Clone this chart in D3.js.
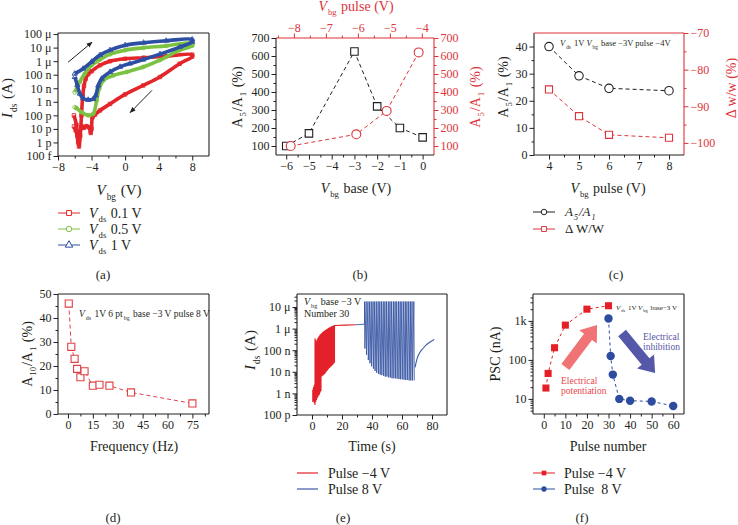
<!DOCTYPE html>
<html>
<head>
<meta charset="utf-8">
<script src="https://cdn.jsdelivr.net/npm/d3@7"></script>
<style>
  body { margin: 0; background: #fff; }
  svg { font-family: "Liberation Serif", "DejaVu Serif", serif; }
</style>
</head>
<body>
<svg id="fig" width="738" height="525"></svg>
<script>
// ---------- data ----------
// (a) transfer curves, forward sweep then backward sweep [Vbg, Ids]
const sweepRed = [[-6.1, 1.5e-11], [-5.9, 8e-12], [-5.7, 3e-12], [-5.5, 5e-13], [-5.35, 3e-12], [-5.2, 1e-10],
  [-5.05, 3e-9], [-4.9, 1.5e-8], [-4.7, 5e-8], [-4.4, 1.1e-7], [-4.0, 1.8e-7], [-3.0, 5e-7], [-1.8, 1e-6],
  [0, 1.5e-6], [2.2, 1.8e-6], [4.9, 2.3e-6], [8, 3e-6],
  [8, 2.2e-6], [6.5, 6.5e-7], [4.15, 6.8e-8], [2.15, 1.6e-8], [0, 3.5e-9], [-1.8, 7e-10], [-3.0, 2.3e-10],
  [-3.6, 1.1e-10], [-3.9, 7e-11], [-4.0, 1e-11], [-4.1, 5e-12], [-4.3, 1.3e-11], [-4.6, 1.6e-11],
  [-4.9, 1.2e-11], [-5.1, 1.5e-11], [-5.4, 4e-12], [-5.6, 1e-12], [-5.8, 2e-11], [-6.1, 1e-10]];
const sweepGreen = [[-6.0, 5e-9], [-5.4, 3e-8], [-4.8, 1.2e-7], [-4.0, 5e-7], [-3.0, 1.3e-6], [-1.8, 3.3e-6],
  [0, 6.5e-6], [2.2, 9.7e-6], [4.9, 1.35e-5], [8, 2.2e-5],
  [8, 1.4e-5], [6.5, 6.5e-6], [4.15, 1.2e-6], [2.15, 3.7e-7], [0.2, 1.6e-7], [-1.4, 9e-8], [-2.6, 3.8e-8],
  [-3.1, 9e-9], [-3.4, 1.2e-9], [-3.8, 1.3e-10], [-4.4, 1e-10], [-5.2, 1.7e-10], [-5.8, 3.5e-10], [-6.0, 4e-10]];
const sweepBlue = [[-6.0, 1.2e-7], [-5.0, 2.8e-7], [-4.0, 9e-7], [-3.0, 2.8e-6], [-1.8, 6.5e-6], [0, 1.5e-5],
  [2.2, 2.3e-5], [4.9, 3.2e-5], [8, 4e-5],
  [8, 2.7e-5], [6.5, 1.1e-5], [4.15, 3.3e-6], [2.15, 1.3e-6], [0.55, 6.6e-7], [-0.6, 3.8e-7], [-1.8, 1.6e-7],
  [-2.8, 5e-8], [-3.2, 1.6e-8], [-3.5, 3e-9], [-3.8, 1.6e-9], [-4.4, 1.4e-9], [-5.0, 1.8e-9], [-5.4, 4e-9],
  [-5.7, 1.7e-8], [-6.0, 6.8e-8]];
const vdsLabels = ['0.1 V', '0.5 V', '1 V'];
const aYTicks = [1e-4, 1e-5, 1e-6, 1e-7, 1e-8, 1e-9, 1e-10, 1e-11, 1e-12, 1e-13];
const aYLabels = ['100 \u03bc', '10 \u03bc', '1 \u03bc', '100 n', '10 n', '1 n', '100 p', '10 p', '1 p', '100 f'];

// (b) A5/A1 vs base voltage (black, bottom axis) and pulse voltage (red, top axis)
const baseV = [-6, -5, -3, -2, -1, 0];
const ratioBase = [100, 170, 625, 320, 200, 148];
const pulseVb = [-8.1, -6.05, -5.1, -4.1];
const ratioPulse = [100, 165, 295, 620];

// (c) A5/A1 and delta w/w vs pulse voltage
const pulseVc = [4, 5, 6, 8];
const ratioC = [40, 29.2, 24.6, 23.7];
const dwwC = [-85.4, -92.7, -97.8, -98.6];

// (d) A10/A1 vs frequency
const freq = [0.5, 2, 4, 5.5, 7.5, 10, 15, 19, 25, 38, 75];
const ratioD = [46, 28, 23, 18.8, 15.3, 17.8, 11.8, 12.2, 11.8, 9, 4.4];

// (e) pulse trains
const redTimes = [0.5, 1, 1.5, 2, 2.5, 3, 3.5, 4, 4.5, 5, 5.5, 6, 6.5, 7, 7.5, 8, 8.5, 9, 9.5, 10,
  10.5, 11, 11.5, 12, 12.5, 13, 13.5, 14, 14.5, 15];
const redHigh = [1.5e-9, 2e-9, 2.5e-9, 3.6e-7, 3e-7, 2.6e-7, 3.2e-7, 3.8e-7, 4.3e-7, 4.8e-7, 5.3e-7, 5.8e-7,
  6.3e-7, 6.8e-7, 7.2e-7, 7.7e-7, 8.2e-7, 8.7e-7, 9.2e-7, 9.7e-7, 1.02e-6, 1.07e-6, 1.12e-6, 1.17e-6,
  1.22e-6, 1.27e-6, 1.32e-6, 1.36e-6, 1.4e-6, 1.45e-6];
const redLow = [4e-10, 4.5e-10, 3.5e-10, 2.9e-10, 4e-10, 5e-10, 6e-10, 7e-10, 8e-10, 9e-10, 1.1e-9, 1.3e-9,
  6e-9, 6.5e-9, 7e-9, 7.5e-9, 8e-9, 9e-9, 1e-8, 1.1e-8, 1.2e-8, 1.35e-8, 1.5e-8, 1.6e-8, 1.7e-8,
  1.85e-8, 2e-8, 2.2e-8, 2.4e-8, 2.6e-8];
const redHold = [[15, 1.4e-6], [22, 1.45e-6], [29, 1.5e-6]];
const blueHold = [[29, 1.5e-6], [35, 1.6e-6]];
const blueTimes = [35.0, 36.1, 37.3, 38.4, 39.5, 40.7, 41.8, 42.9, 44.1, 45.2, 46.3, 47.5, 48.6, 49.7, 50.9,
  52.0, 53.1, 54.3, 55.4, 56.5, 57.7, 58.8, 59.9, 61.1, 62.2, 63.3, 64.5, 65.6, 66.7, 67.9];
const blueHigh = [1.8e-5, 1.8e-5, 1.8e-5, 1.8e-5, 1.8e-5, 1.8e-5, 1.8e-5, 1.8e-5, 1.8e-5, 1.8e-5,
  1.8e-5, 1.8e-5, 1.8e-5, 1.8e-5, 1.8e-5, 1.8e-5, 1.8e-5, 1.8e-5, 1.8e-5, 1.8e-5,
  1.8e-5, 1.8e-5, 1.8e-5, 1.8e-5, 1.8e-5, 1.8e-5, 1.8e-5, 1.8e-5, 1.8e-5, 1.8e-5];
const blueLow = [1.2e-7, 6e-8, 3.5e-8, 2.5e-8, 1.8e-8, 1.4e-8, 1.1e-8, 9e-9, 8e-9, 7.5e-9, 7e-9, 6.5e-9,
  6e-9, 6e-9, 5.5e-9, 5.5e-9, 5e-9, 5e-9, 5e-9, 4.8e-9, 4.6e-9, 4.5e-9, 4.5e-9, 4.3e-9, 4.2e-9,
  4.2e-9, 4e-9, 4e-9, 4e-9, 4e-9];
const recovery = [[68.7, 1.6e-8], [70, 4e-8], [72, 8e-8], [74, 1.2e-7], [76, 1.7e-7], [78, 2.2e-7],
  [80, 2.7e-7], [81.5, 3.1e-7]];

// (f) PSC vs pulse number
const potNum = [1, 2, 5, 10, 20, 30];
const potPSC = [19, 45, 205, 780, 2000, 2450];
const inhNum = [30, 31, 32, 35, 40, 50, 60];
const inhPSC = [1150, 126, 42, 10, 9, 8.6, 6.6];

// ---------- helpers ----------
const FONT = '"Liberation Serif", "DejaVu Serif", serif';
const INK = '#231f20';
const svg = d3.select('#fig');
const minus = d => (d < 0 ? '\u2212' + Math.abs(d) : String(d));

// text made of pieces: 'i' italic, 's' subscript
function rich(parent, x, y, parts, fs, opt = {}) {
  const t = parent.append('text').attr('x', x).attr('y', y).attr('font-size', fs)
    .attr('text-anchor', opt.anchor || 'start').attr('fill', opt.fill || INK);
  if (opt.rotate) t.attr('transform', `rotate(-90,${x},${y})`);
  let shift = 0;
  let prevSub = false;
  parts.forEach(p => {
    const str = typeof p === 'string' ? p : p[0];
    const st = typeof p === 'string' ? '' : p[1];
    const s = t.append('tspan').text(str);
    const isSub = st.includes('s');
    const want = isSub ? fs * 0.3 : 0;
    if (isSub) s.attr('font-size', fs * 0.62);
    if (st.includes('i')) s.attr('font-style', 'italic');
    if (want !== shift) { s.attr('dy', want - shift); shift = want; }
    if (isSub || prevSub) s.attr('dx', 1);
    prevSub = isSub;
  });
  return t;
}

function axis(g, orient, scale, at, major, fmt, minor, color = INK, fs = 12) {
  const gen = { left: d3.axisLeft, right: d3.axisRight, top: d3.axisTop, bottom: d3.axisBottom }[orient];
  const tr = orient === 'left' || orient === 'right' ? `translate(${at},0)` : `translate(0,${at})`;
  if (minor && minor.length) {
    const m = g.append('g').attr('transform', tr)
      .call(gen(scale).tickValues(minor).tickSize(2.5).tickFormat(() => '').tickSizeOuter(0));
    m.select('.domain').remove();
    m.selectAll('line').attr('stroke', color);
  }
  const a = g.append('g').attr('transform', tr)
    .call(gen(scale).tickValues(major).tickFormat(fmt).tickSize(4.5).tickPadding(2).tickSizeOuter(0));
  a.attr('font-family', FONT).attr('font-size', fs);
  a.select('.domain').remove();
  a.selectAll('line').attr('stroke', color);
  a.selectAll('text').attr('fill', color);
  return a;
}

function frame(g, xs, ys, c = {}) {
  const [x0, x1] = xs.range();
  const [y0, y1] = ys.range();
  const side = (ax, ay, bx, by, col) => g.append('line').attr('x1', ax).attr('y1', ay)
    .attr('x2', bx).attr('y2', by).attr('stroke', col || INK).attr('stroke-width', 1.1);
  side(x0, y0, x0, y1, c.left);
  side(x1, y0, x1, y1, c.right);
  side(x0, y1, x1, y1, c.top);
  side(x0, y0, x1, y0, c.bottom);
}

function logMinor(lo, hi) {
  const out = [];
  for (let e = Math.floor(Math.log10(lo)); e <= Math.ceil(Math.log10(hi)); e++) {
    for (let k = 2; k <= 9; k++) {
      const v = k * Math.pow(10, e);
      if (v > lo && v < hi) out.push(v);
    }
  }
  return out;
}

function blockArrow(g, p0, p1, shaftW, headW, headL, fill) {
  const dx = p1[0] - p0[0], dy = p1[1] - p0[1];
  const L = Math.hypot(dx, dy);
  const ux = dx / L, uy = dy / L, nx = -uy, ny = ux;
  const bx = p1[0] - ux * headL, by = p1[1] - uy * headL;
  const pts = [
    [p0[0] + nx * shaftW / 2, p0[1] + ny * shaftW / 2],
    [bx + nx * shaftW / 2, by + ny * shaftW / 2],
    [bx + nx * headW / 2, by + ny * headW / 2],
    p1,
    [bx - nx * headW / 2, by - ny * headW / 2],
    [bx - nx * shaftW / 2, by - ny * shaftW / 2],
    [p0[0] - nx * shaftW / 2, p0[1] - ny * shaftW / 2]
  ];
  g.append('polygon').attr('points', pts.map(p => p.join(',')).join(' ')).attr('fill', fill);
}

const sym = (type, size) => d3.symbol().type(type).size(size)();

svg.append('defs').append('marker')
  .attr('id', 'head').attr('viewBox', '0 0 10 10').attr('refX', 9).attr('refY', 5)
  .attr('markerWidth', 6).attr('markerHeight', 6).attr('orient', 'auto')
  .append('path').attr('d', 'M0,1 L10,5 L0,9 Z').attr('fill', INK);

// ---------- (a) ----------
const RED_A = '#e3262b', GREEN_A = '#7cc242', BLUE_A = '#2d4fa3';
const ga = svg.append('g');
const xA = d3.scaleLinear().domain([-8, 10]).range([58, 209]);
const yA = d3.scaleLog().domain([1e-13, 1.2e-4]).range([156, 33]);

const lineA = d3.line().x(d => xA(d[0])).y(d => yA(d[1])).curve(d3.curveCatmullRom.alpha(0.5));
const seriesA = [
  { data: sweepRed, color: RED_A, type: d3.symbolSquare, size: 12 },
  { data: sweepGreen, color: GREEN_A, type: d3.symbolCircle, size: 12 },
  { data: sweepBlue, color: BLUE_A, type: d3.symbolTriangle, size: 12 }
];
seriesA.forEach(s => {
  ga.append('path').attr('d', lineA(s.data)).attr('fill', 'none')
    .attr('stroke', s.color).attr('stroke-width', 3.6).attr('stroke-linejoin', 'round');
  ga.selectAll(null).data(s.data).enter().append('path')
    .attr('d', sym(s.type, s.size))
    .attr('transform', d => `translate(${xA(d[0])},${yA(d[1])})`)
    .attr('fill', 'none').attr('stroke', s.color).attr('stroke-width', 0.9);
});
frame(ga, xA, yA);
axis(ga, 'left', yA, 58, aYTicks, (d, i) => aYLabels[i]);
axis(ga, 'bottom', xA, 156, [-8, -4, 0, 4, 8], minus, [-6, -2, 2, 6]);

ga.append('line').attr('x1', xA(-6.8)).attr('y1', yA(8.3e-7)).attr('x2', xA(-3.94)).attr('y2', yA(2.5e-5))
  .attr('stroke', INK).attr('stroke-width', 1).attr('marker-end', 'url(#head)');
ga.append('line').attr('x1', xA(3.2)).attr('y1', yA(7e-9)).attr('x2', xA(0.6)).attr('y2', yA(1.6e-10))
  .attr('stroke', INK).attr('stroke-width', 1).attr('marker-end', 'url(#head)');

rich(ga, 12, 98, [['I', 'i'], ['ds', 's'], ' (A)'], 15, { anchor: 'middle', rotate: true });
rich(ga, 119, 195, [['V', 'i'], ['bg', 's'], ' (V)'], 15, { anchor: 'middle' });

seriesA.forEach((s, i) => {
  const y = 213 + i * 16;
  ga.append('line').attr('x1', 58).attr('x2', 80).attr('y1', y).attr('y2', y).attr('stroke', s.color);
  ga.append('path').attr('d', sym(s.type, 24)).attr('transform', `translate(69,${y})`)
    .attr('fill', 'white').attr('stroke', s.color);
  rich(ga, 89, y + 5, [['V', 'i'], ['ds', 's'], ' ' + vdsLabels[i]], 14);
});
rich(ga, 103, 279, ['(a)'], 13, { anchor: 'middle' });

// ---------- (b) ----------
const RED_B = '#dc343a';
const gb = svg.append('g');
const xB = d3.scaleLinear().domain([-6.45, 0.5]).range([276, 434]);
const xB2 = d3.scaleLinear().domain([-8.56, -3.62]).range([276, 434]);
const yB = d3.scaleLinear().domain([50, 700]).range([155, 38]);

frame(gb, xB, yB, { top: RED_B, right: RED_B });
axis(gb, 'left', yB, 276, [100, 200, 300, 400, 500, 600, 700], d => d, [150, 250, 350, 450, 550, 650]);
axis(gb, 'right', yB, 434, [100, 200, 300, 400, 500, 600, 700], d => d, [150, 250, 350, 450, 550, 650], RED_B);
axis(gb, 'bottom', xB, 155, [-6, -5, -4, -3, -2, -1, 0], minus, [-5.5, -4.5, -3.5, -2.5, -1.5, -0.5]);
axis(gb, 'top', xB2, 38, [-8, -7, -6, -5, -4], minus, [-8.5, -7.5, -6.5, -5.5, -4.5], RED_B);

const lineB = d3.line().x(d => xB(d[0])).y(d => yB(d[1]));
const lineB2 = d3.line().x(d => xB2(d[0])).y(d => yB(d[1]));
const ptsBase = baseV.map((v, i) => [v, ratioBase[i]]);
const ptsPulse = pulseVb.map((v, i) => [v, ratioPulse[i]]);
gb.append('path').attr('d', lineB(ptsBase)).attr('fill', 'none').attr('stroke', INK)
  .attr('stroke-dasharray', '4,3');
gb.append('path').attr('d', lineB2(ptsPulse)).attr('fill', 'none').attr('stroke', RED_B)
  .attr('stroke-dasharray', '4,3');
gb.selectAll(null).data(ptsBase).enter().append('path').attr('d', sym(d3.symbolSquare, 56))
  .attr('transform', d => `translate(${xB(d[0])},${yB(d[1])})`)
  .attr('fill', 'white').attr('stroke', INK).attr('stroke-width', 1.1);
gb.selectAll(null).data(ptsPulse).enter().append('path').attr('d', sym(d3.symbolCircle, 62))
  .attr('transform', d => `translate(${xB2(d[0])},${yB(d[1])})`)
  .attr('fill', 'white').attr('stroke', RED_B).attr('stroke-width', 1.1);

rich(gb, 242, 97, ['A', ['5', 's'], '/A', ['1', 's'], ' (%)'], 14, { anchor: 'middle', rotate: true });
rich(gb, 480, 97, ['A', ['5', 's'], '/A', ['1', 's'], ' (%)'], 14, { anchor: 'middle', rotate: true, fill: RED_B });
rich(gb, 356, 193, [['V', 'i'], ['bg', 's'], ' base (V)'], 14, { anchor: 'middle' });
rich(gb, 356, 11, [['V', 'i'], ['bg', 's'], ' pulse (V)'], 14, { anchor: 'middle', fill: RED_B });
rich(gb, 360, 279, ['(b)'], 13, { anchor: 'middle' });

// ---------- (c) ----------
const RED_C = '#dc343a';
const gc = svg.append('g');
const xC = d3.scaleLinear().domain([3.5, 8.5]).range([534, 684]);
const yC = d3.scaleLinear().domain([0, 45]).range([155, 33]);
const yC2 = d3.scaleLinear().domain([-103.3, -70]).range([155, 33]);

frame(gc, xC, yC, { top: RED_C, right: RED_C });
axis(gc, 'left', yC, 534, [0, 10, 20, 30, 40], d => d, [5, 15, 25, 35]);
axis(gc, 'right', yC2, 684, [-100, -90, -80, -70], minus, [-95, -85, -75], RED_C);
axis(gc, 'bottom', xC, 155, [4, 5, 6, 7, 8], d => d, [4.5, 5.5, 6.5, 7.5]);

const ptsC1 = pulseVc.map((v, i) => [v, ratioC[i]]);
const ptsC2 = pulseVc.map((v, i) => [v, dwwC[i]]);
gc.append('path').attr('d', d3.line().x(d => xC(d[0])).y(d => yC(d[1]))(ptsC1))
  .attr('fill', 'none').attr('stroke', INK).attr('stroke-dasharray', '4,3');
gc.append('path').attr('d', d3.line().x(d => xC(d[0])).y(d => yC2(d[1]))(ptsC2))
  .attr('fill', 'none').attr('stroke', RED_C).attr('stroke-dasharray', '4,3');
gc.selectAll(null).data(ptsC1).enter().append('path').attr('d', sym(d3.symbolCircle, 56))
  .attr('transform', d => `translate(${xC(d[0])},${yC(d[1])})`)
  .attr('fill', 'white').attr('stroke', INK).attr('stroke-width', 1.1);
gc.selectAll(null).data(ptsC2).enter().append('path').attr('d', sym(d3.symbolSquare, 50))
  .attr('transform', d => `translate(${xC(d[0])},${yC2(d[1])})`)
  .attr('fill', 'white').attr('stroke', RED_C).attr('stroke-width', 1.1);

rich(gc, 560, 46, [['V', 'i'], ['ds', 's'], ' 1V ', ['V', 'i'], ['bg', 's'], ' base \u22123V pulse \u22124V'], 8.5);
rich(gc, 508, 87, ['A', ['5', 's'], '/A', ['1', 's'], ' (%)'], 14, { anchor: 'middle', rotate: true });
rich(gc, 736, 88, ['\u0394 w/w (%)'], 14, { anchor: 'middle', rotate: true, fill: RED_C });
rich(gc, 608, 193, [['V', 'i'], ['bg', 's'], ' pulse (V)'], 14, { anchor: 'middle' });

const legC = [
  { parts: [['A', 'i'], ['5', 'si'], ['/A', 'i'], ['1', 'si']], color: INK, type: d3.symbolCircle },
  { parts: ['\u0394 W/W'], color: RED_C, type: d3.symbolSquare }
];
legC.forEach((l, i) => {
  const y = 212 + i * 17;
  gc.append('line').attr('x1', 533).attr('x2', 555).attr('y1', y).attr('y2', y).attr('stroke', l.color);
  gc.append('path').attr('d', sym(l.type, 24)).attr('transform', `translate(544,${y})`)
    .attr('fill', 'white').attr('stroke', l.color);
  rich(gc, 565, y + 4, l.parts, 13);
});
rich(gc, 616, 279, ['(c)'], 13, { anchor: 'middle' });

// ---------- (d) ----------
const RED_D = '#df4146';
const gd = svg.append('g');
const xD = d3.scaleLinear().domain([-6, 85]).range([58, 209]);
const yD = d3.scaleLinear().domain([0, 50]).range([414, 294]);

frame(gd, xD, yD);
axis(gd, 'left', yD, 58, [0, 10, 20, 30, 40, 50], d => d, [5, 15, 25, 35, 45]);
axis(gd, 'bottom', xD, 414, [0, 15, 30, 45, 60, 75], d => d, [7.5, 22.5, 37.5, 52.5, 67.5, 82.5]);
const ptsD = freq.map((f, i) => [f, ratioD[i]]);
gd.append('path').attr('d', d3.line().x(d => xD(d[0])).y(d => yD(d[1]))(ptsD))
  .attr('fill', 'none').attr('stroke', RED_D).attr('stroke-dasharray', '4,3');
gd.selectAll(null).data(ptsD).enter().append('path').attr('d', sym(d3.symbolSquare, 50))
  .attr('transform', d => `translate(${xD(d[0])},${yD(d[1])})`)
  .attr('fill', 'white').attr('stroke', RED_D).attr('stroke-width', 1.1);

rich(gd, 79, 317, [['V', 'i'], ['ds', 's'], ' 1V 6 pt', ['bg', 's'], ' base \u22123 V pulse 8 V'], 9.5);
rich(gd, 32, 354, ['A', ['10', 's'], '/A', ['1', 's'], ' (%)'], 14, { anchor: 'middle', rotate: true });
rich(gd, 134, 451, ['Frequency (Hz)'], 14, { anchor: 'middle' });
rich(gd, 113, 522, ['(d)'], 13, { anchor: 'middle' });

// ---------- (e) ----------
const RED_E = '#e4202a', BLUE_E = '#3c59a6';
const ge = svg.append('g');
const xE = d3.scaleLinear().domain([-10, 90]).range([297, 447]);
const yE = d3.scaleLog().domain([1e-10, 4e-5]).range([415, 294]);
const lineE = d3.line().x(d => xE(d[0])).y(d => yE(d[1]));

const redPts = [];
redTimes.forEach((t, i) => { redPts.push([t, redLow[i]], [t, redHigh[i]]); });
ge.append('path').attr('d', lineE(redPts.concat(redHold))).attr('fill', 'none')
  .attr('stroke', RED_E).attr('stroke-width', 1.1);
const bluePts = blueHold.slice();
blueTimes.forEach((t, i) => { bluePts.push([t, blueHigh[i]], [t + 0.25, blueLow[i]]); });
ge.append('path').attr('d', lineE(bluePts)).attr('fill', 'none')
  .attr('stroke', BLUE_E).attr('stroke-width', 0.9);
ge.append('path').attr('d', lineE.curve(d3.curveMonotoneX)(recovery)).attr('fill', 'none')
  .attr('stroke', BLUE_E).attr('stroke-width', 1.1);

frame(ge, xE, yE);
axis(ge, 'left', yE, 297, [1e-5, 1e-6, 1e-7, 1e-8, 1e-9, 1e-10],
  (d, i) => ['10 \u03bc', '1 \u03bc', '100 n', '10 n', '1 n', '100 p'][i], logMinor(1e-10, 4e-5));
axis(ge, 'bottom', xE, 415, [0, 20, 40, 60, 80], d => d, [10, 30, 50, 70]);

rich(ge, 304, 305, [['V', 'i'], ['bg', 's'], ' base \u22123 V'], 10);
rich(ge, 304, 317, ['Number 30'], 10);
rich(ge, 255, 350, [['I', 'i'], ['ds', 's'], ' (A)'], 15, { anchor: 'middle', rotate: true });
rich(ge, 372, 451, ['Time (s)'], 14, { anchor: 'middle' });
[['Pulse \u22124 V', RED_E], ['Pulse 8 V', BLUE_E]].forEach((l, i) => {
  const y = 473 + i * 16;
  ge.append('line').attr('x1', 297).attr('x2', 318).attr('y1', y).attr('y2', y).attr('stroke', l[1]).attr('stroke-width', 1.2);
  rich(ge, 328, y + 5, [l[0]], 14);
});
rich(ge, 343, 522, ['(e)'], 13, { anchor: 'middle' });

// ---------- (f) ----------
const RED_F = '#e41f26', BLUE_F = '#2e4c9f';
const gf = svg.append('g');
const xF = d3.scaleLinear().domain([-5, 65]).range([533, 684]);
const yF = d3.scaleLog().domain([4.1, 4900]).range([414, 294]);

blockArrow(gf, [xF(10), yF(66)], [xF(24.7), yF(790)], 10, 22, 15, '#f07476');
blockArrow(gf, [xF(36.3), yF(490)], [xF(51.6), yF(46)], 10, 22, 15, '#5558a8');

const ptsPot = potNum.map((n, i) => [n, potPSC[i]]);
const ptsInh = inhNum.map((n, i) => [n, inhPSC[i]]);
const lineF = d3.line().x(d => xF(d[0])).y(d => yF(d[1]));
gf.append('path').attr('d', lineF(ptsPot)).attr('fill', 'none').attr('stroke', RED_F).attr('stroke-dasharray', '3,3');
gf.append('path').attr('d', lineF(ptsInh)).attr('fill', 'none').attr('stroke', BLUE_F).attr('stroke-dasharray', '3,3');
gf.selectAll(null).data(ptsPot).enter().append('path').attr('d', sym(d3.symbolSquare, 50))
  .attr('transform', d => `translate(${xF(d[0])},${yF(d[1])})`).attr('fill', RED_F);
gf.selectAll(null).data(ptsInh).enter().append('path').attr('d', sym(d3.symbolCircle, 56))
  .attr('transform', d => `translate(${xF(d[0])},${yF(d[1])})`).attr('fill', BLUE_F);

frame(gf, xF, yF);
axis(gf, 'left', yF, 533, [1000, 100, 10], (d, i) => ['1k', '100', '10'][i], logMinor(4.1, 4900));
axis(gf, 'bottom', xF, 414, [0, 10, 20, 30, 40, 50, 60], d => d, [5, 15, 25, 35, 45, 55]);

rich(gf, 616, 310, [['V', 'i'], ['ds', 's'], ' 1V ', ['V', 'i'], ['bg', 's'], ' base\u22123 V'], 7);
rich(gf, 561, 384, ['Electrical'], 9.5, { fill: '#e8484c' });
rich(gf, 561, 394, ['potentiation'], 9.5, { fill: '#e8484c' });
rich(gf, 643, 340, ['Electrical'], 9.5, { fill: '#5558a8' });
rich(gf, 643, 350, ['inhibition'], 9.5, { fill: '#5558a8' });
rich(gf, 500, 354, ['PSC (nA)'], 14, { anchor: 'middle', rotate: true });
rich(gf, 608, 451, ['Pulse number'], 14, { anchor: 'middle' });
[['Pulse \u22124 V', RED_F, d3.symbolSquare], ['Pulse  8 V', BLUE_F, d3.symbolCircle]].forEach((l, i) => {
  const y = 473 + i * 16;
  gf.append('line').attr('x1', 533).attr('x2', 555).attr('y1', y).attr('y2', y).attr('stroke', l[1]);
  gf.append('path').attr('d', sym(l[2], 22)).attr('transform', `translate(544,${y})`).attr('fill', l[1]);
  rich(gf, 564, y + 5, [l[0]], 14).style('white-space', 'pre');
});
rich(gf, 582, 522, ['(f)'], 13, { anchor: 'middle' });
</script>
</body>
</html>
